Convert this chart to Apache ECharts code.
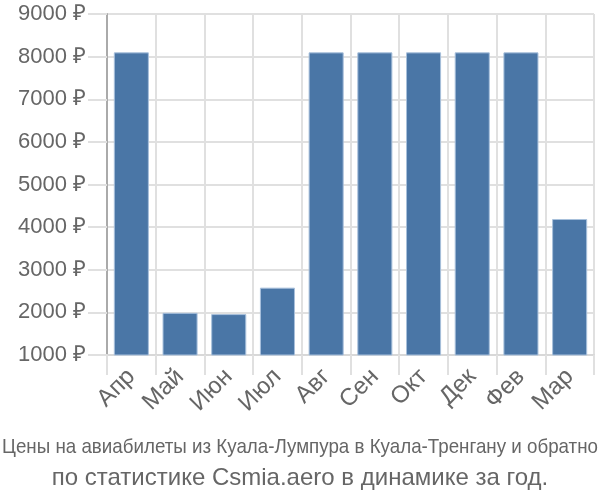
<!DOCTYPE html>
<html><head><meta charset="utf-8">
<script src="https://cdn.jsdelivr.net/npm/echarts@6/dist/echarts.min.js"></script>
<style>html,body{margin:0;padding:0;background:#fff}#c{width:600px;height:500px}</style>
</head><body><div id="c"></div>
<script>
var categories = ['Апр','Май','Июн','Июл','Авг','Сен','Окт','Дек','Фев','Мар'];
var prices = [8100, 1990, 1960, 2580, 8100, 8100, 8100, 8100, 8100, 4190];
var titleLine1 = 'Цены на авиабилеты из Куала-Лумпура в Куала-Тренгану и обратно';
var titleLine2 = 'по статистике Csmia.aero в динамике за год.';

var font1 = '21px "Liberation Sans"';
var ctx = document.createElement('canvas').getContext('2d');
ctx.font = font1;
var line1Scale = 596 / ctx.measureText(titleLine1).width;

var chart = echarts.init(document.getElementById('c'));
chart.setOption({
  animation: false,
  grid: {left: 107, right: 6, top: 14, bottom: 145},
  title: [
    {text: titleLine2, left: 'center', top: 461, textStyle: {fontFamily: 'Liberation Sans', fontSize: 24, fontWeight: 'normal', color: '#666'}}
  ],
  graphic: [
    {type: 'text', x: 300, y: 447, scaleX: line1Scale,
     style: {text: titleLine1, font: font1, fill: '#666', textAlign: 'center', textVerticalAlign: 'middle'}}
  ],
  xAxis: {
    type: 'category', data: categories,
    axisLine: {lineStyle: {color: '#d8d8d8', width: 2}},
    axisTick: {show: true, length: 20, lineStyle: {color: '#e0e0e0', width: 2}},
    splitLine: {show: true, lineStyle: {color: '#e0e0e0', width: 2}},
    axisLabel: {rotate: 45, fontSize: 24, color: '#666', fontFamily: 'Liberation Sans', margin: 18, interval: 0}
  },
  yAxis: {
    type: 'value', min: 1000, max: 9000, interval: 1000,
    axisLine: {show: true, lineStyle: {color: '#aaa', width: 2}},
    axisTick: {show: true, length: 19, lineStyle: {color: '#e0e0e0', width: 2}},
    splitLine: {lineStyle: {color: '#e0e0e0', width: 2}},
    axisLabel: {formatter: function (v) { return v + ' ₽'; }, fontSize: 22, color: '#666', fontFamily: 'Liberation Sans', margin: 21}
  },
  series: [{
    type: 'bar', data: prices, barWidth: '72%',
    itemStyle: {color: '#4a76a6', borderColor: '#a8c0dc', borderWidth: 1}
  }]
});
</script></body></html>
